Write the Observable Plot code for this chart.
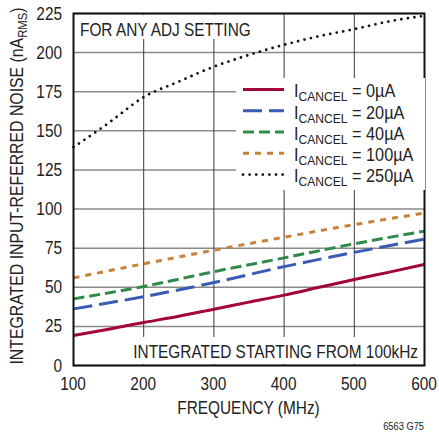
<!DOCTYPE html>
<html>
<head>
<meta charset="utf-8">
<script src="https://cdn.jsdelivr.net/npm/d3@7"></script>
<script src="https://cdn.jsdelivr.net/npm/@observablehq/plot@0.6"></script>
<style>
  html, body { margin: 0; padding: 0; background: white; }
</style>
</head>
<body>
<div id="chart"></div>
<script>
// ---- data ----
const freqCoarse = [100, 200, 300, 400, 500, 600];
const freqFine = [100, 150, 200, 250, 300, 350, 400, 450, 500, 550, 600];
const noise0uA = [19.2, 23.2, 27.5, 31.5, 36, 40.5, 45, 50, 55, 59.7, 64.6];   // on freqFine
const noise20uA = [36.2, 44, 53, 63.2, 72.3, 80.8];                            // on freqCoarse
const noise40uA = [42.6, 50.5, 60, 68.8, 77.8, 85.9];                          // on freqCoarse
const noise100uA = [56, 65, 73.7, 82, 90.1, 97.4];                             // on freqCoarse
const noise250uA = [139.5, 155, 171.5, 181.5, 191, 198.5, 205, 210.5, 215, 220, 223.5]; // on freqFine
const seriesLabels = ["0µA", "20µA", "40µA", "100µA", "250µA"];
const xTicks = [100, 200, 300, 400, 500, 600];
const yTicks = [0, 25, 50, 75, 100, 125, 150, 175, 200, 225];
const xTitle = "FREQUENCY (MHz)";
const yTitleMain = "INTEGRATED INPUT-REFERRED NOISE (nA";
const yTitleSub = "RMS";
const noteTop = "FOR ANY ADJ SETTING";
const noteBottom = "INTEGRATED STARTING FROM 100kHz";
const figId = "6563 G75";

// ---- styles ----
const FONT = '"Liberation Sans", Arial, Helvetica, sans-serif';
const FS = 17.5;      // main font size
const SX = 0.88;      // horizontal condensing of the Helvetica-narrow look
const styles = [
  {color: "#a3043a", dash: null, width: 3, cap: "butt"},
  {color: "#3a5bb4", dash: "19,7", width: 3, cap: "butt"},
  {color: "#2f8a4a", dash: "11,5", width: 3, cap: "butt"},
  {color: "#c98038", dash: "6,6", width: 3, cap: "butt"},
  {color: "#111111", dash: "0,6.6", width: 2.8, cap: "round"}
];

const seriesData = [
  freqFine.map((f, i) => ({f, v: noise0uA[i]})),
  freqCoarse.map((f, i) => ({f, v: noise20uA[i]})),
  freqCoarse.map((f, i) => ({f, v: noise40uA[i]})),
  freqCoarse.map((f, i) => ({f, v: noise100uA[i]})),
  freqFine.map((f, i) => ({f, v: noise250uA[i]}))
];

const W = 439, H = 433;
const mL = 73, mR = 15, mT = 13, mB = 68;

const chart = Plot.plot({
  width: W, height: H,
  marginLeft: mL, marginRight: mR, marginTop: mT, marginBottom: mB,
  style: {fontFamily: FONT, fontSize: FS + "px", background: "white", color: "#222", overflow: "visible"},
  x: {domain: [100, 600], axis: null},
  y: {domain: [0, 225], axis: null},
  marks: [
    Plot.gridY(yTicks, {stroke: "#8a8a8a", strokeOpacity: 1, strokeWidth: 1.5}),
    Plot.gridX(xTicks, {stroke: "#3a3a3a", strokeOpacity: 1, strokeWidth: 1}),
    ...seriesData.map((d, i) => Plot.line(d, {
      x: "f", y: "v", curve: "monotone-x",
      stroke: styles[i].color, strokeWidth: styles[i].width,
      strokeDasharray: styles[i].dash, strokeLinecap: styles[i].cap
    })),
    Plot.frame({stroke: "#111", strokeWidth: 2})
  ]
});

document.getElementById("chart").appendChild(chart);

const svg = d3.select(chart);
const sx = chart.scale("x"), sy = chart.scale("y");

// ---- annotations, legend, titles, tick labels ----
const x0 = mL, x1 = W - mR, yBot = H - mB;
const ann = svg.append("g").attr("font-family", FONT).attr("fill", "#222");

function label(x, y, anchor, size, scx, str) {
  return ann.append("text")
    .attr("transform", `translate(${x},${y}) scale(${scx},1)`)
    .attr("text-anchor", anchor).attr("font-size", size).text(str);
}

// tick labels placed through Plot's scales (condensed Helvetica look)
xTicks.forEach(t => label(sx.apply(t), 390, "middle", FS, SX, String(t)));
yTicks.forEach(t => label(x0 - 11, sy.apply(t) + 6.6, "end", FS, SX, String(t)));

// top-left note
ann.append("rect").attr("x", x0 + 2).attr("y", mT + 2).attr("width", 182).attr("height", 24).attr("fill", "white");
label(x0 + 7, 36, "start", FS, SX, noteTop);

// bottom-right note
ann.append("rect").attr("x", 126).attr("y", 337).attr("width", x1 - 2 - 126).attr("height", yBot - 1 - 337).attr("fill", "white");
label(x1 - 6, 358, "end", FS, SX, noteBottom);

// legend
ann.append("rect").attr("x", 236).attr("y", 78).attr("width", x1 + 1 - 236).attr("height", 112).attr("fill", "white");
seriesLabels.forEach((lab, i) => {
  const base = 97.3 + i * 21.25;
  const ly = base - 7.7;
  ann.append("line").attr("x1", 243).attr("x2", 284).attr("y1", ly).attr("y2", ly)
    .attr("stroke", styles[i].color).attr("stroke-width", styles[i].width)
    .attr("stroke-dasharray", styles[i].dash).attr("stroke-linecap", styles[i].cap);
  const t = ann.append("text")
    .attr("transform", `translate(294,${base}) scale(0.93,1)`)
    .attr("text-anchor", "start").attr("font-size", FS);
  t.append("tspan").text("I");
  t.append("tspan").attr("font-size", 13).attr("dy", 4).text("CANCEL");
  t.append("tspan").attr("dy", -4).text(" = " + lab);
});

// x title
label((x0 + x1) / 2, 414, "middle", FS, SX, xTitle);

// y title
const yt = ann.append("text")
  .attr("transform", `translate(23,${(5 + 367) / 2}) rotate(-90) scale(0.905,1)`)
  .attr("text-anchor", "middle").attr("font-size", FS);
yt.append("tspan").text(yTitleMain);
yt.append("tspan").attr("font-size", 12.5).attr("dy", 4).text(yTitleSub);
yt.append("tspan").attr("dy", -4).text(")");

// figure id
label(x1, 430, "end", 10, 0.93, figId);
</script>
</body>
</html>
